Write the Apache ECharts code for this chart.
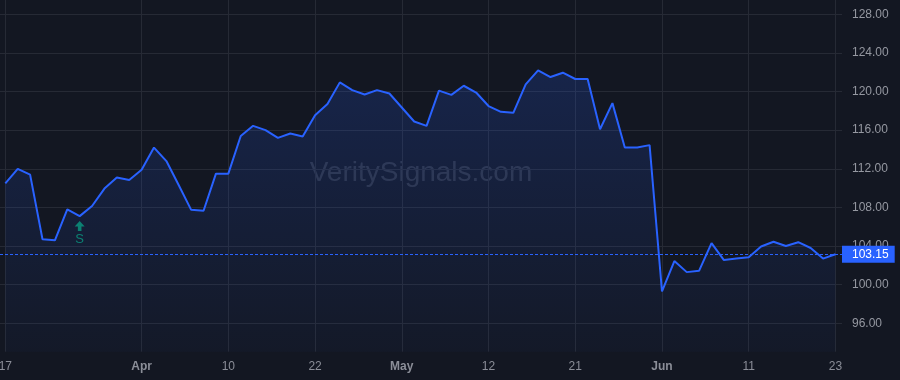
<!DOCTYPE html>
<html>
<head>
<meta charset="utf-8">
<script src="https://cdn.jsdelivr.net/npm/echarts@6/dist/echarts.min.js"></script>
<style>
html,body{margin:0;padding:0;background:#131722;}
#c{width:900px;height:380px;}
</style>
</head>
<body>
<div id="c"></div>
<script>
// Closing prices, one per trading day (Mar 17 .. Jun 23)
const prices = [
  110.5, 112.0, 111.4, 104.7, 104.6, 107.8, 107.1, 108.15, 109.95, 111.1,
  110.85, 111.9, 114.2, 112.8, 110.3, 107.75, 107.65, 111.5, 111.5, 115.4,
  116.45, 116.0, 115.2, 115.65, 115.35, 117.55, 118.7, 120.95, 120.15, 119.7,
  120.15, 119.8, 118.35, 116.9, 116.45, 120.1, 119.65, 120.6, 119.9, 118.5,
  117.9, 117.8, 120.75, 122.2, 121.5, 121.95, 121.3, 121.3, 116.1, 118.8,
  114.2, 114.2, 114.45, 99.3, 102.45, 101.3, 101.45, 104.3, 102.55, 102.7,
  102.85, 103.95, 104.45, 104.0, 104.4, 103.8, 102.7, 103.15
];
// x tick positions (trading-day index) and their labels
const xTickIdx = [0, 11, 18, 25, 32, 39, 46, 53, 60, 67];
const xTickLabels = ['17', 'Apr', '10', '22', 'May', '12', '21', 'Jun', '11', '23'];
const monthLabels = ['Apr', 'May', 'Jun'];
// y ticks
const yTicks = [96, 100, 104, 108, 112, 116, 120, 124, 128];
// last price
const lastPrice = 103.15;
// signals
const signalIdx = [6];
const signalText = ['S'];

const FONT = 'Liberation Sans, Arial, Helvetica, sans-serif';
const GRID = '#262a35';

const chart = echarts.init(document.getElementById('c'), null, {renderer: 'canvas'});
const lineData = prices.map((v, i) => [i, v]);
const sigData = signalIdx.map((i, k) => ({value: [i, prices[i]], label: {formatter: signalText[k]}}));

chart.setOption({
  backgroundColor: '#131722',
  animation: false,
  textStyle: {fontFamily: FONT},
  grid: {left: 0, right: 58, top: 0, bottom: 28.3, containLabel: false, outerBoundsMode: 'none'},
  graphic: [{
    type: 'text', z: 0,
    style: {
      x: 421, y: 173, text: 'VeritySignals.com', fill: 'rgba(190,198,220,0.16)',
      font: '28px ' + FONT, textAlign: 'center', textVerticalAlign: 'middle'
    }
  }],
  xAxis: {
    type: 'value', min: -0.43, max: 67.53,
    axisLine: {show: false},
    axisTick: {show: false, customValues: xTickIdx},
    axisLabel: {
      customValues: xTickIdx, color: '#8b8e98', fontSize: 12, margin: 9,
      fontFamily: FONT, hideOverlap: false,
      formatter: function (v) {
        const k = xTickIdx.indexOf(Math.round(v));
        if (k < 0) return '';
        const t = xTickLabels[k];
        return monthLabels.indexOf(t) >= 0 ? '{b|' + t + '}' : t;
      },
      rich: {b: {fontWeight: 'bold', color: '#8b8e98', fontSize: 12, fontFamily: FONT}}
    },
    splitLine: {show: true, lineStyle: {color: GRID, width: 1}}
  },
  yAxis: {
    type: 'value', position: 'right', min: 93.06, max: 129.48, scale: true,
    axisLine: {show: false},
    axisTick: {show: false, customValues: yTicks},
    axisLabel: {
      customValues: yTicks, color: '#9598a1', fontSize: 12, margin: 10, fontFamily: FONT,
      formatter: v => v.toFixed(2)
    },
    splitLine: {show: true, lineStyle: {color: GRID, width: 1}}
  },
  series: [{
    type: 'line', data: lineData, symbol: 'none', z: 3,
    lineStyle: {color: '#2962ff', width: 2},
    areaStyle: {
      origin: 'start',
      color: new echarts.graphic.LinearGradient(0, 0, 0, 1, [
        {offset: 0, color: 'rgba(41,98,255,0.26)'},
        {offset: 1, color: 'rgba(41,98,255,0.04)'}
      ])
    },
    markLine: {
      silent: true, symbol: ['none', 'none'], animation: false,
      lineStyle: {color: '#2962ff', type: [3, 2], width: 1},
      label: {
        show: true, position: 'end', distance: 0, formatter: v => v.value.toFixed(2),
        backgroundColor: '#2962ff', color: '#ffffff', fontSize: 12, fontFamily: FONT,
        padding: [2, 6, 2, 10], lineHeight: 13
      },
      data: [{yAxis: lastPrice}]
    }
  }, {
    type: 'scatter', data: sigData, z: 4, silent: true,
    symbol: 'path://M5,0L10,5.5L6.8,5.5L6.8,10L3.2,10L3.2,5.5L0,5.5Z',
    symbolSize: [10, 10], symbolOffset: [0, 10],
    itemStyle: {color: '#0a9a82'},
    label: {show: true, position: 'bottom', distance: 2, color: '#0a9a82', fontSize: 13, fontFamily: FONT}
  }]
});
</script>
</body>
</html>
